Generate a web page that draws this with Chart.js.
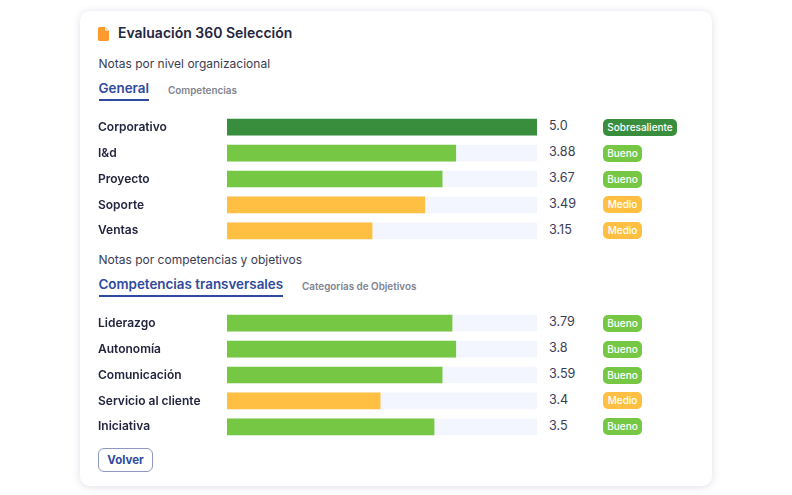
<!DOCTYPE html>
<html><head><meta charset="utf-8">
<script src="https://cdn.jsdelivr.net/npm/chart.js@4"></script>
<style>
html,body{margin:0;padding:0;background:#fff;width:792px;height:495px;overflow:hidden;font-family:Inter,sans-serif}
#card{position:absolute;left:80px;top:11px;width:632px;height:475px;border-radius:10px;background:#fff;box-shadow:0 1px 8px rgba(50,60,110,.16)}
.t{position:absolute;white-space:nowrap;line-height:1}
canvas{position:absolute}
.bar{position:absolute;height:2.5px;background:#2f4a9e}
.badge{position:absolute;height:17px;line-height:17px;border-radius:5px;color:#fff;font-size:10px;font-weight:500;text-align:center}
.val{position:absolute;font-size:12.6px;color:#3a3c55;line-height:1;white-space:nowrap}
#volver{position:absolute;left:98px;top:448px;width:53px;height:22px;line-height:22px;border:1px solid #8f97c4;border-radius:6px;text-align:center;color:#2f4a9e;font-size:11.5px;font-weight:700}
</style></head><body>
<div id="card"></div>
<svg style="position:absolute;left:98px;top:26.5px" width="11" height="14" viewBox="0 0 11 14"><path d="M1.5 0H7L11 4V12.5A1.5 1.5 0 0 1 9.5 14H1.5A1.5 1.5 0 0 1 0 12.5V1.5A1.5 1.5 0 0 1 1.5 0Z" fill="#ff9a2e"/><path d="M7 0V4H11Z" fill="#ffd9a8"/></svg>
<div class="t" style="left:118px;top:26px;font-size:14px;font-weight:600;color:#23253f">Evaluación 360 Selección</div>
<div class="t" style="left:98.5px;top:58px;font-size:12px;color:#3a3c55">Notas por nivel organizacional</div>
<div class="t" style="left:98.5px;top:81.5px;font-size:13.4px;font-weight:600;color:#2f4a9e">General</div>
<div class="bar" style="left:98.5px;top:98.5px;width:50px"></div>
<div class="t" style="left:168px;top:86px;font-size:9.9px;font-weight:600;color:#80838f">Competencias</div>
<div class="t" style="left:98.5px;top:254px;font-size:12px;color:#3a3c55">Notas por competencias y objetivos</div>
<div class="t" style="left:98.5px;top:277.5px;font-size:13.4px;font-weight:600;color:#2f4a9e">Competencias transversales</div>
<div class="bar" style="left:98.5px;top:294.5px;width:184px"></div>
<div class="t" style="left:302px;top:282px;font-size:9.9px;font-weight:600;color:#80838f">Categorías de Objetivos</div>
<canvas id="c1" style="left:98px;top:106.5px;width:439px;height:144px"></canvas>
<canvas id="c2" style="left:98px;top:302.5px;width:439px;height:144px"></canvas>
<div id="volver">Volver</div>
<script>
const SCALE_MAX = 5;
const orgLabels = ["Corporativo","I&d","Proyecto","Soporte","Ventas"];
const orgBars = [5, 3.69, 3.47, 3.19, 2.34];
const orgNotes = ["5.0","3.88","3.67","3.49","3.15"];
const orgLevels = ["Sobresaliente","Bueno","Bueno","Medio","Medio"];
const compLabels = ["Liderazgo","Autonomía","Comunicación","Servicio al cliente","Iniciativa"];
const compBars = [3.63, 3.69, 3.47, 2.47, 3.34];
const compNotes = ["3.79","3.8","3.59","3.4","3.5"];
const compLevels = ["Bueno","Bueno","Bueno","Medio","Bueno"];
const levelColors = {Sobresaliente:"#388e3c",Bueno:"#76c744",Medio:"#ffbf42"};
const levelWidths = {Sobresaliente:74,Bueno:39,Medio:39};
Chart.defaults.font.family = "Inter";
function make(id, labels, bars, notes, levels, top){
  new Chart(document.getElementById(id),{
    type:"bar",
    data:{labels,datasets:[
      {data:bars,backgroundColor:levels.map(l=>levelColors[l]),barThickness:16,grouped:false,order:0},
      {data:labels.map(()=>SCALE_MAX),backgroundColor:"#f3f6fe",barThickness:16,grouped:false,order:1}
    ]},
    options:{
      indexAxis:"y",responsive:false,animation:false,
      layout:{padding:0},
      plugins:{legend:{display:false},tooltip:{enabled:false}},
      scales:{
        x:{min:0,max:SCALE_MAX,display:false},
        y:{
          afterFit(s){s.width=129},
          grid:{display:false},border:{display:false},
          ticks:{crossAlign:"far",padding:0,color:"#23253f",font:{size:12,weight:"600",family:"Inter"}}
        }
      }
    },
    plugins:[{id:"rows",afterRender(chart){
      if(chart.$done)return;chart.$done=true;
      labels.forEach((_,i)=>{
        const y=top+chart.scales.y.getPixelForValue(i);
        const v=document.createElement("div");v.className="val";v.textContent=notes[i];
        v.style.left="549px";v.style.top=(y-6.5)+"px";document.body.appendChild(v);
        const b=document.createElement("div");b.className="badge";b.textContent=levels[i];
        b.style.left="603px";b.style.top=(y-8)+"px";b.style.width=levelWidths[levels[i]]+"px";
        b.style.background=levelColors[levels[i]];document.body.appendChild(b);
      });
    }}]
  });
}
["c1","c2"].forEach(id=>{const c=document.getElementById(id);c.width=439;c.height=144;});
make("c1",orgLabels,orgBars,orgNotes,orgLevels,106.5);
make("c2",compLabels,compBars,compNotes,compLevels,302.5);
</script>
</body></html>
